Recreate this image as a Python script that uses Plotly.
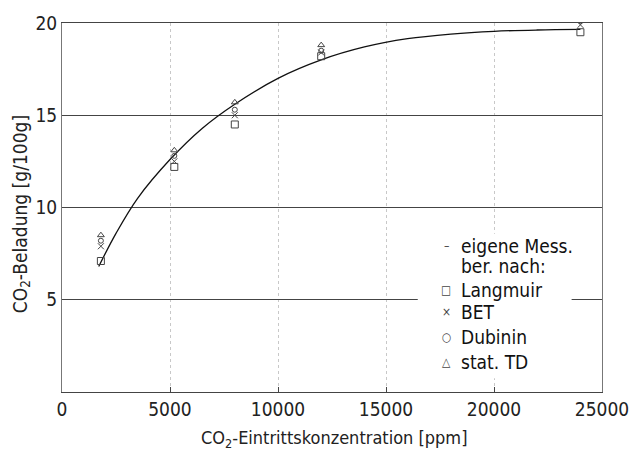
import plotly.graph_objects as go

# measured curve ("eigene Mess.")
curve_x = [1700, 2500, 3500, 5000, 6500, 8000, 10000, 12000, 14000, 16000, 18000, 20000, 22000, 24000]
curve_y = [6.8, 8.6, 10.5, 12.6, 14.3, 15.6, 17.0, 18.0, 18.7, 19.15, 19.4, 19.55, 19.62, 19.65]

# calculated points
pts_x = [1800, 5200, 8000, 12000, 24000]
langmuir = [7.1, 12.2, 14.5, 18.2, 19.5]
bet = [7.9, 12.5, 15.0, 18.4, 19.9]
dubinin = [8.2, 12.8, 15.3, 18.5, 20.1]
stat_td = [8.5, 13.1, 15.7, 18.8, 20.4]

x_ticks = [0, 5000, 10000, 15000, 20000, 25000]
y_ticks = [5, 10, 15, 20]

FONT = "DejaVu Sans Condensed, DejaVu Sans, sans-serif"
W, H = 641, 457
L, R, T, B = 62, 28, 14, 65
PW, PH = W - L - R, H - T - B

def px(x):
    return (x - L) / PW

def py(y):
    return (H - B - y) / PH

fig = go.Figure()
fig.add_trace(go.Scatter(x=curve_x, y=curve_y, mode="lines",
                         line=dict(color="#111", width=1.3, shape="spline"),
                         showlegend=False, hoverinfo="skip"))
sym = [("square-open", langmuir, 7), ("x-thin-open", bet, 6),
       ("circle-open", dubinin, 5), ("triangle-up-open", stat_td, 6)]
for s, vals, sz in sym:
    fig.add_trace(go.Scatter(x=pts_x, y=vals, mode="markers",
                             marker=dict(symbol=s, size=sz, color="#444",
                                         line=dict(width=1, color="#444")),
                             showlegend=False))

fig.update_xaxes(range=[0, 25000], tickvals=x_ticks, ticktext=[str(v) for v in x_ticks],
                 showgrid=True, gridcolor="#c8c8c8", griddash="dot", gridwidth=1,
                 showline=True, linecolor="#444", linewidth=1, mirror=True,
                 ticks="inside", ticklen=5, tickcolor="#444", zeroline=False,
                 tickfont=dict(family=FONT, size=19, color="#222"))
fig.update_yaxes(range=[0, 20], tickvals=y_ticks, ticktext=[str(v) for v in y_ticks],
                 showgrid=True, gridcolor="#444", gridwidth=1,
                 showline=True, linecolor="#777", linewidth=1, mirror=True,
                 ticks="", zeroline=False,
                 tickfont=dict(family=FONT, size=19, color="#222"))

# legend background box (interrupts the grid line at 5)
fig.add_shape(type="rect", xref="paper", yref="paper",
              x0=px(425), x1=px(582), y0=py(378), y1=py(230),
              fillcolor="white", line=dict(width=0), layer="above")

legend_text = [("eigene Mess.", 242), ("ber. nach:", 263), ("Langmuir", 288),
               ("BET", 310), ("Dubinin", 336), ("stat. TD", 361)]
legend_glyph = [("\u2013", 242), ("\u25a1", 288), ("\u00d7", 310),
                ("\u25cb", 336), ("\u25b3", 361)]
for txt, yy in legend_text:
    fig.add_annotation(x=px(467), y=py(yy), xref="paper", yref="paper",
                       text=txt, showarrow=False, xanchor="left", yanchor="middle",
                       font=dict(family=FONT, size=19, color="#111"))
for g, yy in legend_glyph:
    fig.add_annotation(x=px(454), y=py(yy), xref="paper", yref="paper",
                       text=g, showarrow=False, xanchor="center", yanchor="middle",
                       font=dict(family=FONT, size=12, color="#444"))

fig.add_annotation(x=px(340), y=py(440), xref="paper", yref="paper",
                   text="CO<sub>2</sub>-Eintrittskonzentration [ppm]", showarrow=False,
                   xanchor="center", yanchor="middle",
                   font=dict(family=FONT, size=18, color="#222"))
fig.add_annotation(x=px(20), y=py(210), xref="paper", yref="paper",
                   text="CO<sub>2</sub>-Beladung [g/100g]", showarrow=False, textangle=-90,
                   xanchor="center", yanchor="middle",
                   font=dict(family=FONT, size=19, color="#222"))

fig.update_layout(width=W, height=H, margin=dict(l=L, r=R, t=T, b=B),
                  plot_bgcolor="white", paper_bgcolor="white", showlegend=False)
fig.write_html("out.html")
